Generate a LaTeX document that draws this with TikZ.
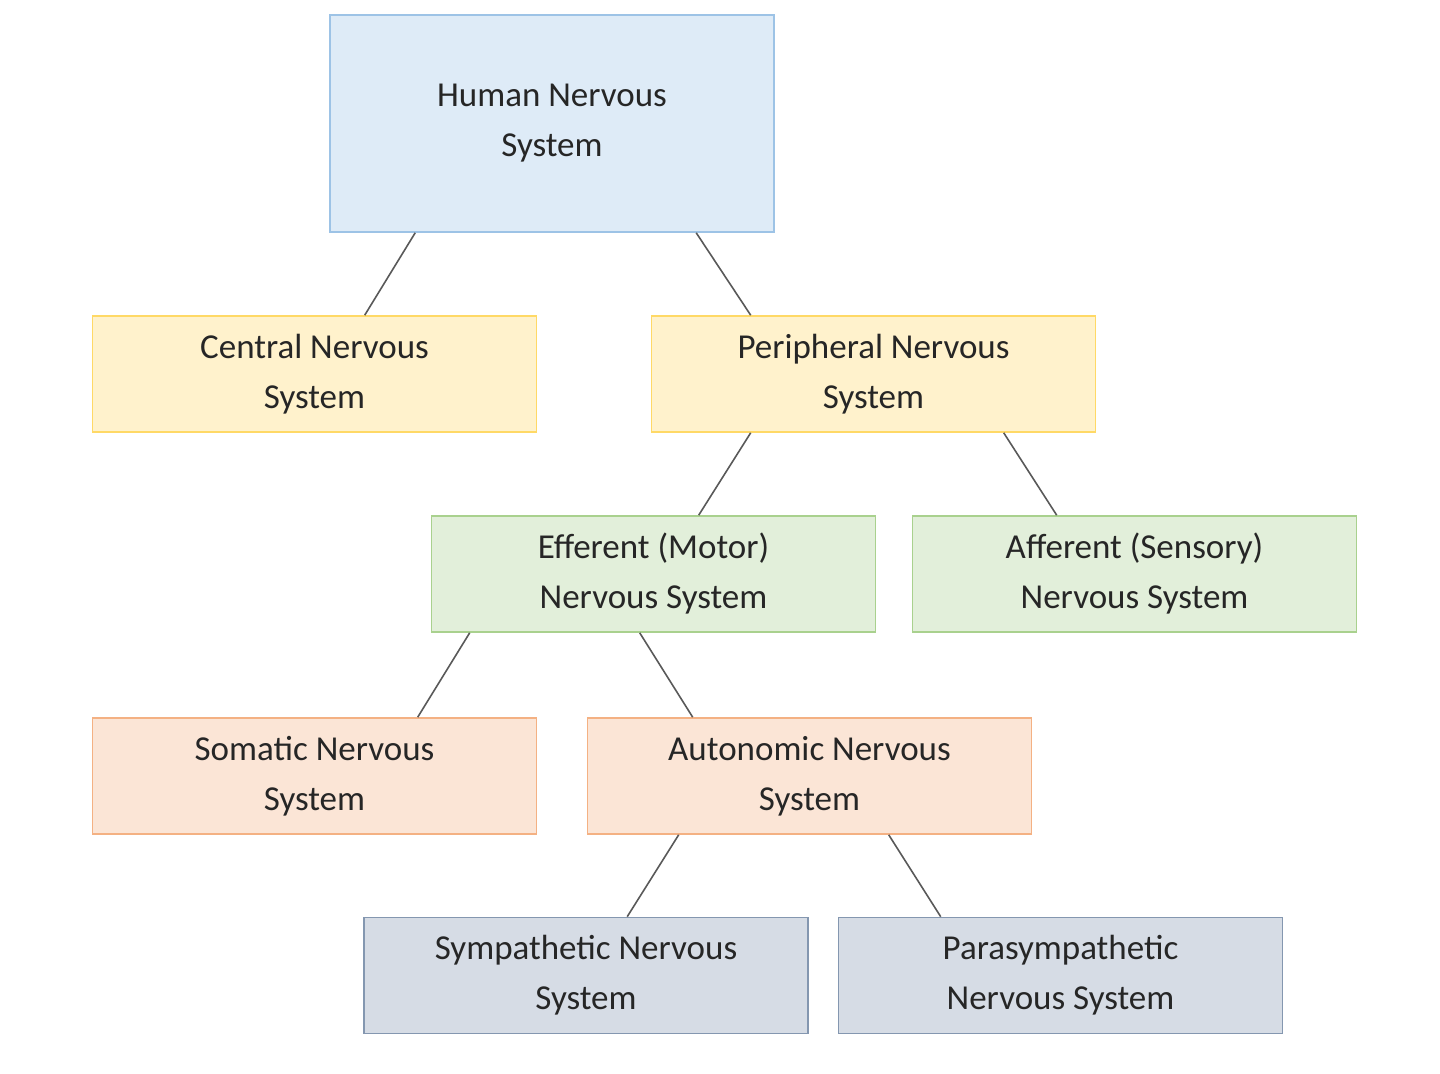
\documentclass[tikz,border=0pt]{standalone}
\usepackage{fontspec}
\setmainfont{Carlito}
\definecolor{bfill}{HTML}{DEEBF7}\definecolor{bdraw}{HTML}{9DC3E6}
\definecolor{yfill}{HTML}{FFF2CC}\definecolor{ydraw}{HTML}{FFD966}
\definecolor{gfill}{HTML}{E2EFDA}\definecolor{gdraw}{HTML}{A9D18E}
\definecolor{ofill}{HTML}{FBE5D6}\definecolor{odraw}{HTML}{F4B183}
\definecolor{sfill}{HTML}{D6DCE5}\definecolor{sdraw}{HTML}{8497B0}
\begin{document}
\begin{tikzpicture}[x=0.5pt,y=-0.5pt,
 box/.style={draw,line width=0.8pt,minimum width=222pt,minimum height=58pt,inner sep=0pt,align=center,font=\fontsize{17.5}{25}\selectfont,text=black!85},
 blue/.style={box,fill=bfill,draw=bdraw,minimum height=108.5pt},
 yel/.style={box,fill=yfill,draw=ydraw},
 grn/.style={box,fill=gfill,draw=gdraw},
 org/.style={box,fill=ofill,draw=odraw},
 gry/.style={box,fill=sfill,draw=sdraw},
 link/.style={draw=black!65,line width=0.8pt}]
\useasboundingbox (0,0) rectangle (1440,1074);
\node[blue] (hn) at (552,123.5) {Human Nervous\\System};
\node[yel] (cn) at (314.5,374) {Central Nervous\\System};
\node[yel] (pn) at (873.5,374) {Peripheral Nervous\\System};
\node[grn] (ef) at (653.5,574) {Efferent (Motor)\\Nervous System};
\node[grn] (af) at (1134.5,574) {Afferent (Sensory)\\Nervous System};
\node[org] (so) at (314.5,776) {Somatic Nervous\\System};
\node[org] (au) at (809.5,776) {Autonomic Nervous\\System};
\node[gry] (sy) at (586,975.5) {Sympathetic Nervous\\System};
\node[gry] (ps) at (1060.5,975.5) {Parasympathetic\\Nervous System};
\draw[link] ([xshift=43pt]hn.south west) -- ([xshift=136.5pt]cn.north west);
\draw[link] ([xshift=183.5pt]hn.south west) -- ([xshift=50pt]pn.north west);
\draw[link] ([xshift=50pt]pn.south west) -- ([xshift=134pt]ef.north west);
\draw[link] ([xshift=176.5pt]pn.south west) -- ([xshift=72.5pt]af.north west);
\draw[link] ([xshift=19.5pt]ef.south west) -- ([xshift=163pt]so.north west);
\draw[link] ([xshift=104.5pt]ef.south west) -- ([xshift=53pt]au.north west);
\draw[link] ([xshift=46pt]au.south west) -- ([xshift=132pt]sy.north west);
\draw[link] ([xshift=151pt]au.south west) -- ([xshift=51.5pt]ps.north west);
\end{tikzpicture}
\end{document}
